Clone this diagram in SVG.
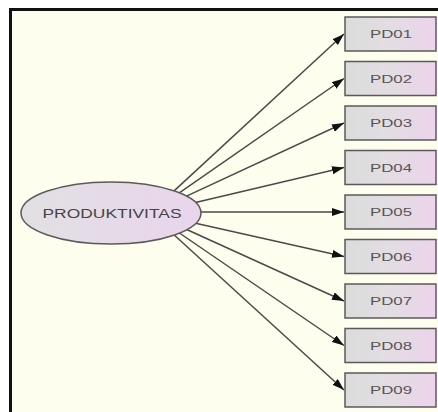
<svg xmlns="http://www.w3.org/2000/svg" width="438" height="412" viewBox="0 0 438 412">
<style>
.box{fill:url(#gbox);stroke:#5a5a5a;stroke-width:1.5}
.lbl{font-family:"Liberation Sans",Arial,sans-serif;font-size:11px;fill:#555;text-anchor:middle}
.edge{stroke:#4a4a4a;stroke-width:1.5;fill:none;marker-end:url(#arr)}
</style>
<defs>
<linearGradient id="gbox" x1="0" y1="0" x2="1" y2="0">
<stop offset="0" stop-color="#dcdcdc"/>
<stop offset="0.5" stop-color="#e2dde2"/>
<stop offset="1" stop-color="#eed3ec"/>
</linearGradient>
<linearGradient id="gell" x1="0" y1="0" x2="1" y2="0">
<stop offset="0" stop-color="#e2e0e3"/>
<stop offset="1" stop-color="#e9d5ec"/>
</linearGradient>
<marker id="arr" markerUnits="userSpaceOnUse" markerWidth="13" markerHeight="9" refX="12" refY="4" orient="auto">
<path d="M0,0 L12,4 L0,8 z" fill="#111"/>
</marker>
</defs>
<rect x="0" y="0" width="438" height="412" fill="#ffffff"/>
<rect x="10.5" y="9.5" width="428" height="403" fill="#fdfeee"/>
<path d="M10.5,412 V9.5 H438" fill="none" stroke="#111" stroke-width="3"/>
<g id="connectors">
<line class="edge" x1="174.1" y1="190.9" x2="344" y2="34"/>
<line class="edge" x1="179.3" y1="192.8" x2="344" y2="78.5"/>
<line class="edge" x1="186.5" y1="196.1" x2="344" y2="123"/>
<line class="edge" x1="195.5" y1="202.4" x2="344" y2="167.5"/>
<line class="edge" x1="201" y1="212" x2="344" y2="212"/>
<line class="edge" x1="195.6" y1="223.2" x2="344" y2="256.5"/>
<line class="edge" x1="186.7" y1="229.5" x2="344" y2="301"/>
<line class="edge" x1="179.4" y1="233" x2="344" y2="345.5"/>
<line class="edge" x1="174.2" y1="235" x2="344" y2="390"/>
</g>
<g id="PRODUKTIVITAS">
<ellipse cx="111" cy="213" rx="90" ry="31" fill="url(#gell)" stroke="#5a5a5a" stroke-width="1.5"/>
<text x="112" y="218" font-family="Liberation Sans,Arial,sans-serif" font-size="12.5" fill="#444" text-anchor="middle" textLength="139" lengthAdjust="spacingAndGlyphs">PRODUKTIVITAS</text>
</g>
<g id="PD01"><rect class="box" x="345" y="17" width="91" height="34"/><text class="lbl" x="391" y="38" textLength="42" lengthAdjust="spacingAndGlyphs">PD01</text></g>
<g id="PD02"><rect class="box" x="345" y="61.5" width="91" height="34"/><text class="lbl" x="391" y="82.5" textLength="42" lengthAdjust="spacingAndGlyphs">PD02</text></g>
<g id="PD03"><rect class="box" x="345" y="106" width="91" height="34"/><text class="lbl" x="391" y="127" textLength="42" lengthAdjust="spacingAndGlyphs">PD03</text></g>
<g id="PD04"><rect class="box" x="345" y="150.5" width="91" height="34"/><text class="lbl" x="391" y="171.5" textLength="42" lengthAdjust="spacingAndGlyphs">PD04</text></g>
<g id="PD05"><rect class="box" x="345" y="195" width="91" height="34"/><text class="lbl" x="391" y="216" textLength="42" lengthAdjust="spacingAndGlyphs">PD05</text></g>
<g id="PD06"><rect class="box" x="345" y="239.5" width="91" height="34"/><text class="lbl" x="391" y="260.5" textLength="42" lengthAdjust="spacingAndGlyphs">PD06</text></g>
<g id="PD07"><rect class="box" x="345" y="284" width="91" height="34"/><text class="lbl" x="391" y="305" textLength="42" lengthAdjust="spacingAndGlyphs">PD07</text></g>
<g id="PD08"><rect class="box" x="345" y="328.5" width="91" height="34"/><text class="lbl" x="391" y="349.5" textLength="42" lengthAdjust="spacingAndGlyphs">PD08</text></g>
<g id="PD09"><rect class="box" x="345" y="373" width="91" height="34"/><text class="lbl" x="391" y="394" textLength="42" lengthAdjust="spacingAndGlyphs">PD09</text></g>
</svg>
